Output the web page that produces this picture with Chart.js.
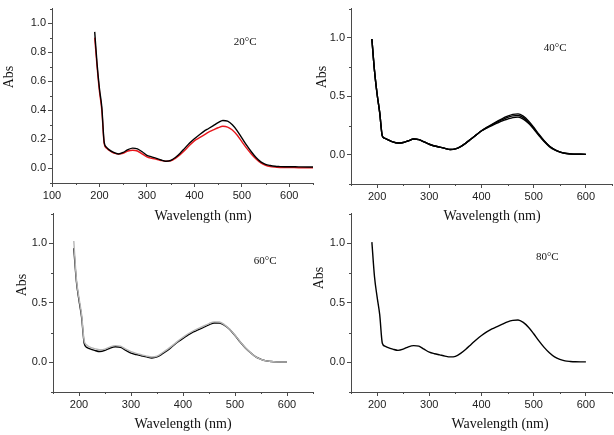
<!DOCTYPE html>
<html><head><meta charset="utf-8">
<script src="https://cdn.jsdelivr.net/npm/chart.js@4.4.1/dist/chart.umd.min.js"></script>
<style>
html,body{margin:0;padding:0;background:#fff;width:614px;height:435px;overflow:hidden}
canvas{position:absolute}
</style></head><body>
<canvas id="p1" width="316" height="228" style="left:0px;top:0px"></canvas>
<canvas id="p2" width="314" height="228" style="left:300px;top:0px"></canvas>
<canvas id="p3" width="316" height="230" style="left:0px;top:205px"></canvas>
<canvas id="p4" width="314" height="230" style="left:300px;top:205px"></canvas>
<script>
// ---- data ----
const wl20 = [190,195,200,205,210,215,220,230,240,250,260,270,280,290,300,310,320,330,340,350,360,370,380,390,400,410,420,430,440,450,460,470,480,490,500,510,520,530,540,550,560,570,580,590,600,620,650];
const wl = [190,195,200,205,210,215,220,230,240,250,260,270,280,290,300,310,320,330,340,350,360,370,380,390,400,410,420,430,440,450,460,470,480,490,500,510,520,530,540,550,560,570,580,590,600];

const abs20a = [0.94,0.72,0.55,0.42,0.18,0.145,0.13,0.11,0.10,0.11,0.13,0.14,0.135,0.115,0.09,0.08,0.07,0.058,0.05,0.055,0.075,0.105,0.14,0.175,0.205,0.23,0.255,0.275,0.295,0.315,0.33,0.325,0.30,0.26,0.21,0.16,0.115,0.075,0.045,0.028,0.02,0.015,0.013,0.012,0.012,0.011,0.01];
const abs20b = [0.90,0.70,0.53,0.40,0.17,0.14,0.125,0.105,0.10,0.105,0.12,0.125,0.12,0.10,0.08,0.07,0.063,0.055,0.05,0.052,0.07,0.095,0.125,0.16,0.19,0.21,0.23,0.25,0.265,0.28,0.29,0.285,0.265,0.23,0.185,0.14,0.10,0.065,0.038,0.022,0.013,0.009,0.007,0.006,0.006,0.005,0.005];

const abs40a = [0.99,0.72,0.52,0.36,0.16,0.14,0.13,0.11,0.10,0.105,0.12,0.135,0.13,0.11,0.09,0.075,0.065,0.055,0.045,0.05,0.07,0.10,0.135,0.17,0.205,0.235,0.26,0.285,0.31,0.33,0.345,0.35,0.33,0.29,0.235,0.175,0.12,0.075,0.045,0.025,0.013,0.008,0.005,0.004,0.003];
const abs40b = [0.99,0.72,0.52,0.36,0.16,0.14,0.13,0.11,0.10,0.105,0.12,0.135,0.13,0.11,0.09,0.075,0.065,0.055,0.045,0.05,0.07,0.10,0.135,0.17,0.205,0.232,0.255,0.28,0.30,0.32,0.333,0.336,0.318,0.28,0.228,0.17,0.117,0.073,0.044,0.024,0.013,0.008,0.005,0.004,0.003];
const abs40c = [0.99,0.72,0.52,0.36,0.16,0.14,0.13,0.11,0.10,0.105,0.12,0.135,0.13,0.11,0.09,0.075,0.065,0.055,0.045,0.05,0.07,0.10,0.135,0.17,0.203,0.228,0.25,0.27,0.29,0.305,0.318,0.322,0.305,0.27,0.22,0.165,0.113,0.07,0.042,0.023,0.012,0.007,0.005,0.004,0.003];

const abs60a = [0.96,0.68,0.52,0.38,0.16,0.125,0.115,0.10,0.09,0.10,0.12,0.13,0.125,0.10,0.077,0.065,0.055,0.045,0.036,0.045,0.07,0.10,0.135,0.17,0.20,0.23,0.255,0.275,0.295,0.315,0.33,0.33,0.31,0.275,0.225,0.17,0.12,0.08,0.045,0.025,0.012,0.006,0.003,0.002,0.002];
const abs60b = [1.02,0.70,0.54,0.40,0.18,0.145,0.13,0.115,0.105,0.11,0.13,0.14,0.135,0.11,0.09,0.075,0.063,0.052,0.045,0.052,0.078,0.108,0.142,0.178,0.21,0.24,0.265,0.285,0.305,0.325,0.34,0.338,0.315,0.278,0.227,0.172,0.122,0.08,0.046,0.025,0.012,0.006,0.003,0.002,0.002];

const abs80a = [1.01,0.72,0.55,0.40,0.16,0.135,0.125,0.11,0.10,0.11,0.13,0.14,0.135,0.11,0.085,0.072,0.062,0.052,0.045,0.05,0.075,0.11,0.15,0.19,0.225,0.255,0.28,0.30,0.32,0.34,0.352,0.355,0.335,0.295,0.24,0.18,0.125,0.08,0.045,0.024,0.012,0.007,0.004,0.003,0.003];

// tick labels
const xTicks20 = [100,200,300,400,500,600];
const xTicks = [200,300,400,500,600];
const yTicks20 = [0.0,0.2,0.4,0.6,0.8,1.0];
const yTicks = [0.0,0.5,1.0];

const xTitle = 'Wavelength (nm)';
const yTitle = 'Abs';
const tempLabels = ['20°C','40°C','60°C','80°C'];

// ---- styling ----
const AXIS = '#4a4a4a';
const TICKTXT = '#222';
const tickFont = {family: 'Liberation Sans, Arial, sans-serif', size: 11};

function pts(xs, ys){ return xs.map((x,i)=>({x:x, y:ys[i]})); }

const decor = {
  id: 'decor',
  afterDraw(chart, args, o) {
    const ctx = chart.ctx, xs = chart.scales.x, ys = chart.scales.y;
    const ca = chart.chartArea;
    ctx.save();
    ctx.strokeStyle = AXIS; ctx.lineWidth = 1;
    ctx.beginPath();
    for (let v = o.xMinorStart; v <= xs.max + 1e-9; v += o.xMajor) {
      const px = Math.round(xs.getPixelForValue(v)) + 0.5;
      ctx.moveTo(px, ca.bottom); ctx.lineTo(px, ca.bottom + 2);
    }
    for (let v = o.yMinorStart; v <= ys.max + 1e-9; v += o.yMajor) {
      const py = Math.round(ys.getPixelForValue(v)) + 0.5;
      ctx.moveTo(ca.left, py); ctx.lineTo(ca.left - 2, py);
    }
    ctx.stroke();
    ctx.fillStyle = '#111';
    ctx.font = '14px "Liberation Serif", "Times New Roman", serif';
    ctx.textAlign = 'center'; ctx.textBaseline = 'middle';
    ctx.fillText(xTitle, o.xt[0], o.xt[1]);
    ctx.save();
    ctx.translate(o.yt[0], o.yt[1]); ctx.rotate(-Math.PI/2);
    ctx.fillText(yTitle, 0, 0);
    ctx.restore();
    ctx.font = '11px "Liberation Serif", "Times New Roman", serif';
    ctx.fillText(o.label, xs.getPixelForValue(o.lx), ys.getPixelForValue(o.ly));
    ctx.restore();
  }
};

function makeChart(id, xs, series, cfg) {
  const datasets = series.map(s => ({
    data: pts(xs, s.y), borderColor: s.c, borderWidth: 1.4,
    pointRadius: 0, cubicInterpolationMode: 'monotone', fill: false
  }));
  new Chart(document.getElementById(id), {
    type: 'line',
    data: {datasets},
    plugins: [decor],
    options: {
      responsive: false, animation: false, events: [],
      layout: {padding: {top: cfg.padTop, right: cfg.padRight, left: 0, bottom: 0}},
      plugins: {legend: {display: false}, tooltip: {enabled: false}, decor: cfg.decor},
      scales: {
        x: {
          type: 'linear', min: cfg.xmin, max: cfg.xmax,
          afterBuildTicks: s => { s.ticks = cfg.xticks.map(v => ({value: v})); },
          afterFit: s => { s.height = cfg.xh; },
          ticks: {font: tickFont, color: TICKTXT, padding: 2, maxRotation: 0, autoSkip: false,
                  callback: v => String(v)},
          grid: {drawOnChartArea: false, drawTicks: true, tickLength: 4, color: AXIS},
          border: {color: AXIS, width: 1}
        },
        y: {
          type: 'linear', min: cfg.ymin, max: cfg.ymax,
          afterBuildTicks: s => { s.ticks = cfg.yticks.map(v => ({value: v})); },
          afterFit: s => { s.width = cfg.yw; },
          ticks: {font: tickFont, color: TICKTXT, padding: 2, autoSkip: false,
                  callback: v => Number(v).toFixed(1)},
          grid: {drawOnChartArea: false, drawTicks: true, tickLength: 4, color: AXIS},
          border: {color: AXIS, width: 1}
        }
      }
    }
  });
}

makeChart('p1', wl20, [{y: abs20a, c: '#000'}, {y: abs20b, c: '#e8161b'}], {
  xmin: 100, xmax: 650, ymin: -0.1, ymax: 1.1, xticks: xTicks20, yticks: yTicks20,
  padTop: 2, padRight: 3, xh: 45, yw: 52,
  decor: {xMajor: 100, xMinorStart: 150, yMajor: 0.2, yMinorStart: -0.1,
          xt: [203, 216], yt: [9, 77], label: tempLabels[0], lx: 507, ly: 0.87}
});
makeChart('p2', wl, [{y: abs40a, c: '#000'}, {y: abs40b, c: '#000'}, {y: abs40c, c: '#000'}], {
  xmin: 150, xmax: 650, ymin: -0.25, ymax: 1.25, xticks: xTicks, yticks: yTicks,
  padTop: 2, padRight: 2, xh: 44, yw: 51,
  decor: {xMajor: 100, xMinorStart: 150, yMajor: 0.5, yMinorStart: -0.25,
          xt: [192, 216], yt: [22, 77], label: tempLabels[1], lx: 541, ly: 0.91}
});
makeChart('p3', wl, [{y: abs60b, c: '#b5b5b5'}, {y: abs60a, c: '#000'}], {
  xmin: 150, xmax: 650, ymin: -0.25, ymax: 1.25, xticks: xTicks, yticks: yTicks,
  padTop: 4, padRight: 3, xh: 43, yw: 53,
  decor: {xMajor: 100, xMinorStart: 150, yMajor: 0.5, yMinorStart: -0.25,
          xt: [183, 219], yt: [22, 80], label: tempLabels[2], lx: 558, ly: 0.85}
});
makeChart('p4', wl, [{y: abs80a, c: '#000'}], {
  xmin: 150, xmax: 650, ymin: -0.25, ymax: 1.25, xticks: xTicks, yticks: yTicks,
  padTop: 4, padRight: 2, xh: 43, yw: 51,
  decor: {xMajor: 100, xMinorStart: 150, yMajor: 0.5, yMinorStart: -0.25,
          xt: [200, 219], yt: [19, 73], label: tempLabels[3], lx: 526, ly: 0.885}
});
</script>
</body></html>
